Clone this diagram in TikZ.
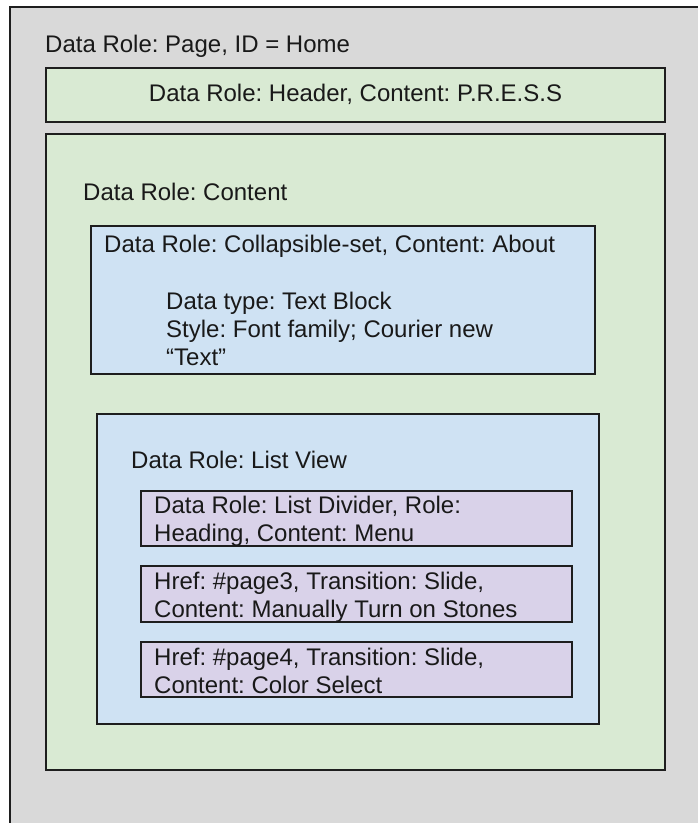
\documentclass[tikz,border=0pt]{standalone}
\usepackage{fontspec}
\setmainfont{Liberation Sans}
\frenchspacing
% left-aligned stack of lines whose baseline is the first line's
\newcommand\rowstack[1]{\vtop{\halign{##\hfil\cr#1\crcr}}}
\definecolor{pagegray}{HTML}{D9D9D9}
\definecolor{areagreen}{HTML}{D9EAD3}
\definecolor{areablue}{HTML}{CFE2F3}
\definecolor{itempurple}{HTML}{D9D2E9}
\definecolor{edge}{HTML}{1E1E1E}
\tikzset{
  frame/.style={draw=edge, line width=1.6pt},
  label/.style={inner sep=0pt, anchor=base west, font=\fontsize{24}{28}\selectfont, text=black!90},
}
\begin{document}
\begin{tikzpicture}[x=1pt, y=-1pt]
  \clip (0,0) rectangle (698,823);
  \fill[white] (0,0) rectangle (698,823);
  % page
  \filldraw[frame, fill=pagegray] (10,7) rectangle (720,850);
  \node[label] (pagelbl) at (45,52) {Data Role: Page, ID = Home};
  % header
  \filldraw[frame, fill=areagreen] (46,68) rectangle (665,122);
  \node[label, anchor=base] (headerlbl) at (355.5,101) {Data Role: Header, Content: P.R.E.S.S};
  % content area
  \filldraw[frame, fill=areagreen] (46,134) rectangle (665,770);
  \node[label] (contentlbl) at (83,200) {Data Role: Content};
  % collapsible set
  \filldraw[frame, fill=areablue] (91,226) rectangle (595,374);
  \node[label] (collapsiblelbl) at (104,252) {Data Role: Collapsible-set, Content: About};
  \node[label] (textblock) at (166,309) {\rowstack{Data type: Text Block\cr Style: Font family; Courier new\cr “Text”}};
  % list view
  \filldraw[frame, fill=areablue] (97,414) rectangle (599,724);
  \node[label] (listlbl) at (131,468) {Data Role: List View};
  \filldraw[frame, fill=itempurple] (141,491) rectangle (572,546);
  \node[label] (divider) at (154,513) {\rowstack{Data Role: List Divider, Role:\cr Heading, Content: Menu}};
  \filldraw[frame, fill=itempurple] (141,566) rectangle (572,622);
  \node[label] (page3) at (154,589) {\rowstack{Href: \#page3, Transition: Slide,\cr Content: Manually Turn on Stones}};
  \filldraw[frame, fill=itempurple] (141,642) rectangle (572,697);
  \node[label] (page4) at (154,665) {\rowstack{Href: \#page4, Transition: Slide,\cr Content: Color Select}};
\end{tikzpicture}
\end{document}
